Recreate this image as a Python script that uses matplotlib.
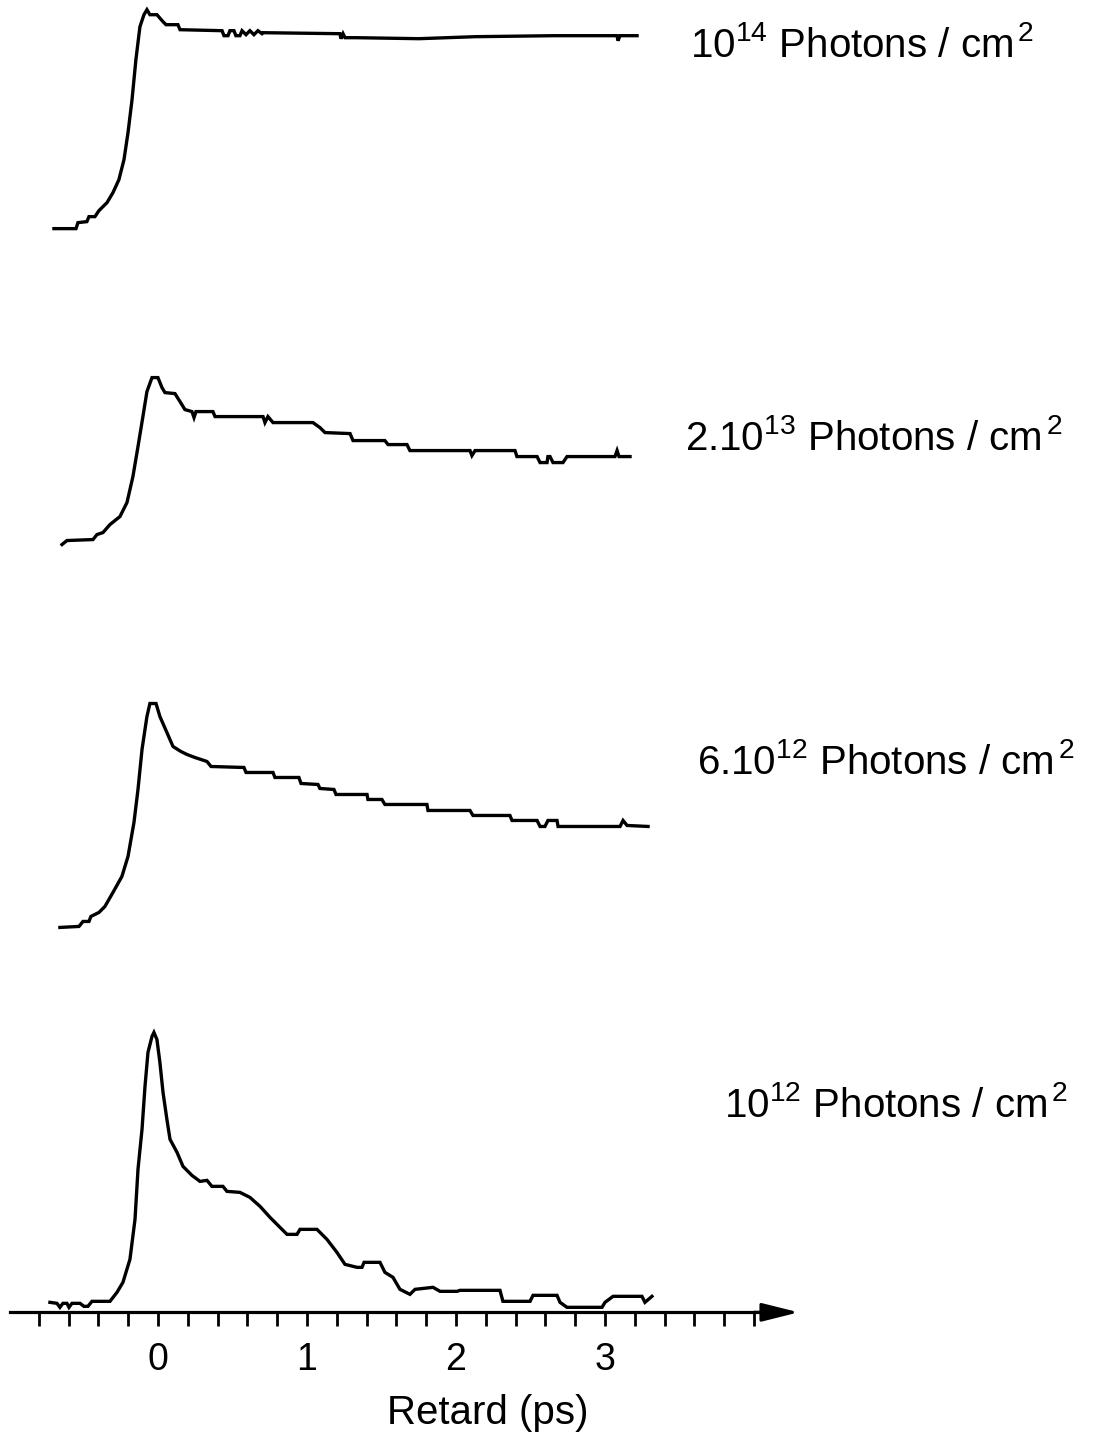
# -*- coding: utf-8 -*-
"""
Pump-probe traces at four excitation fluences
"""

import matplotlib
matplotlib.use("Agg")
import matplotlib.pyplot as plt
from matplotlib.ticker import FixedLocator

plt.rcParams['font.family'] = ['Liberation Sans', 'DejaVu Sans']
plt.rcParams['mathtext.fontset'] = 'custom'
plt.rcParams['mathtext.rm'] = 'Liberation Sans'
plt.rcParams['mathtext.it'] = 'Liberation Sans'

# --- data (delay in ps, signal in a.u. above each trace baseline) ---

# 10^14 photons / cm^2
t1 = [-0.698, -0.550, -0.537, -0.477, -0.463, -0.423, -0.396, -0.342, -0.302, -0.262,
      -0.228, -0.201, -0.174, -0.148, -0.121, -0.094, -0.074, -0.054, -0.007, 0.034,
      0.054, 0.134, 0.148, 0.430, 0.443, 0.470, 0.483, 0.510, 0.523, 0.550,
      0.564, 0.591, 0.617, 0.644, 0.671, 0.698, 0.705, 1.221, 1.228, 1.242,
      1.255, 1.329, 1.752, 2.128, 2.658, 3.081, 3.087, 3.101, 3.215]
s1 = [0.00, 0.00, 0.06, 0.07, 0.12, 0.12, 0.18, 0.26, 0.36, 0.49,
      0.69, 0.96, 1.29, 1.69, 2.02, 2.14, 2.19, 2.14, 2.14, 2.07,
      2.04, 2.04, 1.99, 1.98, 1.93, 1.93, 1.98, 1.98, 1.93, 1.93,
      1.98, 1.94, 1.98, 1.94, 1.98, 1.95, 1.96, 1.95, 1.90, 1.95,
      1.91, 1.91, 1.90, 1.92, 1.93, 1.93, 1.88, 1.93, 1.93]

# 2.10^13 photons / cm^2
t2 = [-0.644, -0.611, -0.436, -0.409, -0.369, -0.322, -0.255, -0.208, -0.168, -0.134,
      -0.101, -0.074, -0.040, 0.000, 0.027, 0.047, 0.114, 0.148, 0.181, 0.228,
      0.242, 0.255, 0.369, 0.383, 0.705, 0.718, 0.738, 0.772, 1.040, 1.087,
      1.121, 1.289, 1.309, 1.523, 1.544, 1.671, 1.691, 2.094, 2.107, 2.128,
      2.396, 2.409, 2.544, 2.564, 2.611, 2.617, 2.631, 2.651, 2.718, 2.745,
      3.067, 3.081, 3.094, 3.168]
s2 = [-0.04, 0.00, 0.01, 0.06, 0.08, 0.16, 0.24, 0.38, 0.64, 0.94,
      1.24, 1.49, 1.63, 1.63, 1.53, 1.48, 1.47, 1.39, 1.31, 1.29,
      1.23, 1.29, 1.29, 1.24, 1.24, 1.18, 1.24, 1.18, 1.18, 1.13,
      1.08, 1.07, 1.00, 1.00, 0.96, 0.96, 0.90, 0.90, 0.85, 0.90,
      0.90, 0.84, 0.84, 0.78, 0.78, 0.84, 0.84, 0.78, 0.78, 0.84,
      0.84, 0.90, 0.84, 0.84]

# 6.10^12 photons / cm^2
t3 = [-0.658, -0.530, -0.503, -0.463, -0.450, -0.396, -0.356, -0.302, -0.242, -0.201,
      -0.161, -0.134, -0.107, -0.074, -0.054, -0.013, 0.013, 0.060, 0.101, 0.154,
      0.195, 0.248, 0.329, 0.356, 0.577, 0.591, 0.772, 0.785, 0.946, 0.960,
      1.074, 1.087, 1.181, 1.195, 1.403, 1.409, 1.503, 1.523, 1.805, 1.812,
      2.094, 2.114, 2.362, 2.376, 2.544, 2.564, 2.597, 2.617, 2.678, 2.685,
      3.101, 3.121, 3.148, 3.289]
s3 = [0.00, 0.01, 0.06, 0.06, 0.11, 0.15, 0.21, 0.35, 0.51, 0.71,
      1.05, 1.38, 1.78, 2.11, 2.24, 2.24, 2.11, 1.95, 1.81, 1.76,
      1.73, 1.70, 1.66, 1.61, 1.60, 1.55, 1.55, 1.50, 1.50, 1.44,
      1.43, 1.39, 1.38, 1.33, 1.33, 1.28, 1.28, 1.23, 1.23, 1.17,
      1.17, 1.12, 1.12, 1.07, 1.07, 1.01, 1.01, 1.07, 1.07, 1.01,
      1.01, 1.07, 1.02, 1.01]

# 10^12 photons / cm^2
t4 = [-0.725, -0.678, -0.658, -0.638, -0.611, -0.597, -0.577, -0.523, -0.497, -0.470,
      -0.443, -0.322, -0.275, -0.235, -0.188, -0.154, -0.134, -0.107, -0.087, -0.067,
      -0.040, -0.027, -0.007, 0.013, 0.034, 0.060, 0.081, 0.128, 0.168, 0.228,
      0.282, 0.329, 0.362, 0.436, 0.463, 0.550, 0.617, 0.685, 0.752, 0.819,
      0.866, 0.933, 0.953, 1.067, 1.134, 1.201, 1.255, 1.336, 1.369, 1.383,
      1.490, 1.523, 1.577, 1.624, 1.691, 1.725, 1.846, 1.893, 2.007, 2.027,
      2.295, 2.315, 2.497, 2.517, 2.678, 2.698, 2.745, 2.980, 3.000, 3.054,
      3.248, 3.268, 3.315]
s4 = [0.10, 0.09, 0.05, 0.09, 0.09, 0.05, 0.09, 0.09, 0.06, 0.06,
      0.11, 0.11, 0.20, 0.30, 0.53, 0.93, 1.43, 1.83, 2.26, 2.60,
      2.76, 2.80, 2.73, 2.50, 2.20, 1.93, 1.73, 1.60, 1.46, 1.37,
      1.31, 1.32, 1.26, 1.26, 1.21, 1.20, 1.15, 1.06, 0.95, 0.85,
      0.78, 0.78, 0.83, 0.83, 0.73, 0.60, 0.48, 0.45, 0.45, 0.50,
      0.50, 0.40, 0.35, 0.23, 0.18, 0.23, 0.25, 0.21, 0.21, 0.22,
      0.22, 0.11, 0.11, 0.17, 0.17, 0.10, 0.05, 0.05, 0.10, 0.16,
      0.16, 0.10, 0.16]

labels = [r"$\mathregular{10^{14}}$ Photons / cm$\mathregular{^{\,2}}$",
          r"$\mathregular{2.10^{13}}$ Photons / cm$\mathregular{^{\,2}}$",
          r"$\mathregular{6.10^{12}}$ Photons / cm$\mathregular{^{\,2}}$",
          r"$\mathregular{10^{12}}$ Photons / cm$\mathregular{^{\,2}}$"]

major_ticks = [0, 1, 2, 3]
minor_ticks = [-0.8, -0.6, -0.4, -0.2, 0.2, 0.4, 0.6, 0.8, 1.2, 1.4, 1.6, 1.8,
               2.2, 2.4, 2.6, 2.8, 3.2, 3.4, 3.6, 3.8, 4.0]


def main():
    fig = plt.figure(figsize=(11.06, 14.35), dpi=100)
    ax = fig.add_axes([0, 0, 1, 1])

    # vertical offset of each trace (stacked display)
    offsets = [10.84, 7.72, 3.85, 0.0]
    label_pos = [(3.57, 12.56), (3.54, 8.63), (3.62, 5.38), (3.80, 1.95)]

    for t, s, off, lab, (lx, ly) in zip([t1, t2, t3, t4], [s1, s2, s3, s4],
                                        offsets, labels, label_pos):
        ax.plot(t, [v + off for v in s], color='black', lw=2.4,
                solid_joinstyle='miter')
        ax.text(lx, ly, lab, fontsize=29, ha='left', va='baseline')

    ax.set_xlim(-1.060, 6.362)
    ax.set_ylim(-1.227, 13.127)

    # x axis drawn as a bottom spine through y=0 with an arrow head
    for side in ['top', 'right', 'left']:
        ax.spines[side].set_visible(False)
    ax.spines['bottom'].set_position(('data', 0))
    ax.spines['bottom'].set_bounds(-0.99, 4.1)
    ax.spines['bottom'].set_linewidth(2.3)
    ax.annotate('', xy=(4.3, 0), xytext=(4.0, 0),
                arrowprops=dict(arrowstyle='-|>,head_length=0.8,head_width=0.2',
                                mutation_scale=28, lw=2.3, color='black',
                                shrinkA=0, shrinkB=0))

    ax.xaxis.set_major_locator(FixedLocator(major_ticks))
    ax.xaxis.set_minor_locator(FixedLocator(minor_ticks))
    ax.tick_params(axis='x', which='both', direction='out', length=10,
                   width=2.0, color='black')
    ax.tick_params(axis='x', which='major', labelsize=27, pad=11)
    ax.set_yticks([])
    ax.set_xticklabels([str(v) for v in major_ticks])

    ax.text(2.21, -1.12, "Retard (ps)", fontsize=29, ha='center', va='baseline')

    fig.savefig("out.png", dpi=100, facecolor='white')


if __name__ == "__main__":
    main()
